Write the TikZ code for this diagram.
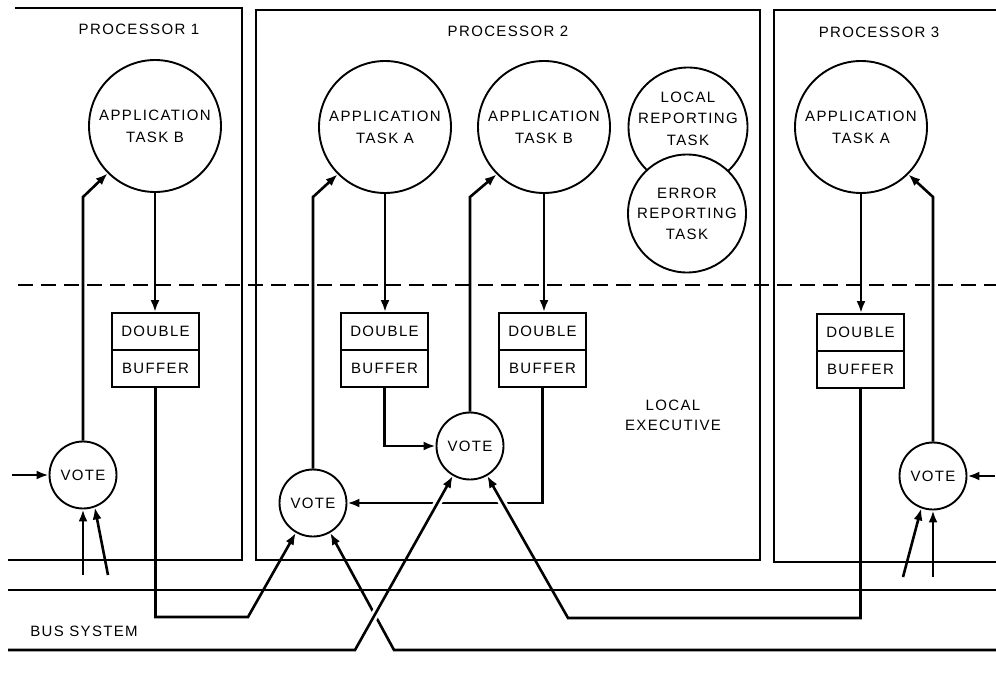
\documentclass[tikz,border=0pt]{standalone}
\usepackage{fontspec}
\setmainfont{Liberation Sans}[LetterSpace=9]
\usetikzlibrary{arrows.meta,calc}
\begin{document}
\begin{tikzpicture}[x=1pt,y=-1pt,
  lw/.style={line width=1.9pt},
  conn/.style={line width=2.6pt,-{Latex[length=12pt,width=9pt]}},
  gapline/.style={draw=white,line width=8pt},
  lbl/.style={font=\fontsize{15pt}{22pt}\selectfont, align=center, inner sep=0pt},
  task/.style={circle, draw, lw, fill=white, minimum size=132pt, lbl},
  vote/.style={circle, draw, lw, fill=white, minimum size=67pt, lbl},
  buf/.style={draw, lw, fill=white, minimum width=87pt, minimum height=37pt, lbl}
]
\useasboundingbox (0,0) rectangle (996,674);

% processor frames
\draw[lw] (15,8) -- (242,8) -- (242,560) -- (8,560);
\draw[lw] (256,10) rectangle (760,560);
\draw[lw] (996,10) -- (774,10) -- (774,562) -- (996,562);
\draw[lw] (8,590) -- (996,590);
\draw[lw, dash pattern=on 15pt off 8pt] (18,285) -- (996,285);

% labels
\node[lbl] (p1) at (139,29) {PROCESSOR 1};
\node[lbl] (p2) at (508,31) {PROCESSOR 2};
\node[lbl] (p3) at (879,32) {PROCESSOR 3};
\node[lbl] (bus) at (84,631) {BUS SYSTEM};
\node[lbl, font=\fontsize{15pt}{20pt}\selectfont] (lex) at (673,415) {LOCAL\\EXECUTIVE};

% tasks
\node[task] (t1b) at (155,126) {APPLICATION\\TASK B};
\node[task] (t2a) at (385,127) {APPLICATION\\TASK A};
\node[task] (t2b) at (544,127) {APPLICATION\\TASK B};
\node[task] (t3a) at (861,127) {APPLICATION\\TASK A};
\node[task, minimum size=119pt] (lrt) at (688,127) {};
\node[lbl, font=\fontsize{15pt}{21.5pt}\selectfont] (lrtx) at (688,118.5) {LOCAL\\REPORTING\\TASK};
\node[task, minimum size=118pt, font=\fontsize{15pt}{20.5pt}\selectfont] (ert) at (687,213.5) {ERROR\\REPORTING\\TASK};

% double buffers
\node[buf] (b1t) at (155.5,331.5) {DOUBLE};
\node[buf] (b1b) at (155.5,368.5) {BUFFER};
\node[buf] (b2at) at (384.5,331.5) {DOUBLE};
\node[buf] (b2ab) at (384.5,368.5) {BUFFER};
\node[buf] (b2bt) at (542.5,331.5) {DOUBLE};
\node[buf] (b2bb) at (542.5,368.5) {BUFFER};
\node[buf] (b3t) at (860.5,332.5) {DOUBLE};
\node[buf] (b3b) at (860.5,369.5) {BUFFER};

% votes
\node[vote] (v1) at (83,475) {VOTE};
\node[vote] (v2l) at (313,503) {VOTE};
\node[vote] (v2m) at (470,446) {VOTE};
\node[vote] (v3) at (933,476) {VOTE};

% coordinates
\coordinate (c1) at (83,197);
\coordinate (c2l) at (313,197);
\coordinate (c2m) at (470,197);
\coordinate (c3) at (933,197);
\coordinate (c7) at (248,617);
\coordinate (c10) at (568,618);
\coordinate (bl1) at (8,650);
\coordinate (c11) at (355,650);
\coordinate (br1) at (996,650);
\coordinate (c12) at (394,650);
\coordinate (in1) at (12,475);
\coordinate (in1a) at (83,575);
\coordinate (in1b) at (108,575);
\coordinate (in3) at (995,476);
\coordinate (in3a) at (933,577);
\coordinate (in3b) at (903,577);

% task -> buffer
\draw[conn] (t1b.south) -- (t1b.south |- b1t.north);
\draw[conn] (t2a.south) -- (t2a.south |- b2at.north);
\draw[conn] (t2b.south) -- (t2b.south |- b2bt.north);
\draw[conn] (t3a.south) -- (t3a.south |- b3t.north);

% vote -> task
\draw[conn] (v1.north) -- (c1) -- (t1b.225);
\draw[conn] (v2l.north) -- (c2l) -- (t2a.225);
\draw[conn] (v2m.north) -- (c2m) -- (t2b.225);
\draw[conn] (v3.north) -- (c3) -- (t3a.-45);

% buffers -> votes
\draw[conn] (b2ab.south) |- (v2m.west);
\draw[conn] (b2bb.south) |- (v2l.east);
\draw[conn] (b1b.south) -- (b1b.south |- c7) -- (c7) -- (v2l.240);
\draw[conn] (br1) -- (c12) -- (v2l.300);

\draw[gapline] ($(c11)!0.1!(v2m.240)$) -- ($(c11)!0.9!(v2m.240)$);
\draw[gapline] ($(c10)!0.1!(v2m.300)$) -- ($(c10)!0.9!(v2m.300)$);
\draw[conn] (bl1) -- (c11) -- (v2m.240);
\draw[conn] (b3b.south) |- (c10) -- (v2m.300);

% external inputs
\draw[conn] (in1) -- (v1.west);
\draw[conn] (in1a) -- (v1.south);
\draw[conn] (in1b) -- (v1.290);
\draw[conn] (in3) -- (v3.east);
\draw[conn] (in3a) -- (v3.south);
\draw[conn] (in3b) -- (v3.250);

% redraw bus/frame lines over gaps
\draw[lw] (8,590) -- (996,590);
\draw[lw] (242,560) -- (8,560);
\draw[lw] (256,560) -- (760,560);
\draw[lw] (774,562) -- (996,562);
\end{tikzpicture}
\end{document}
